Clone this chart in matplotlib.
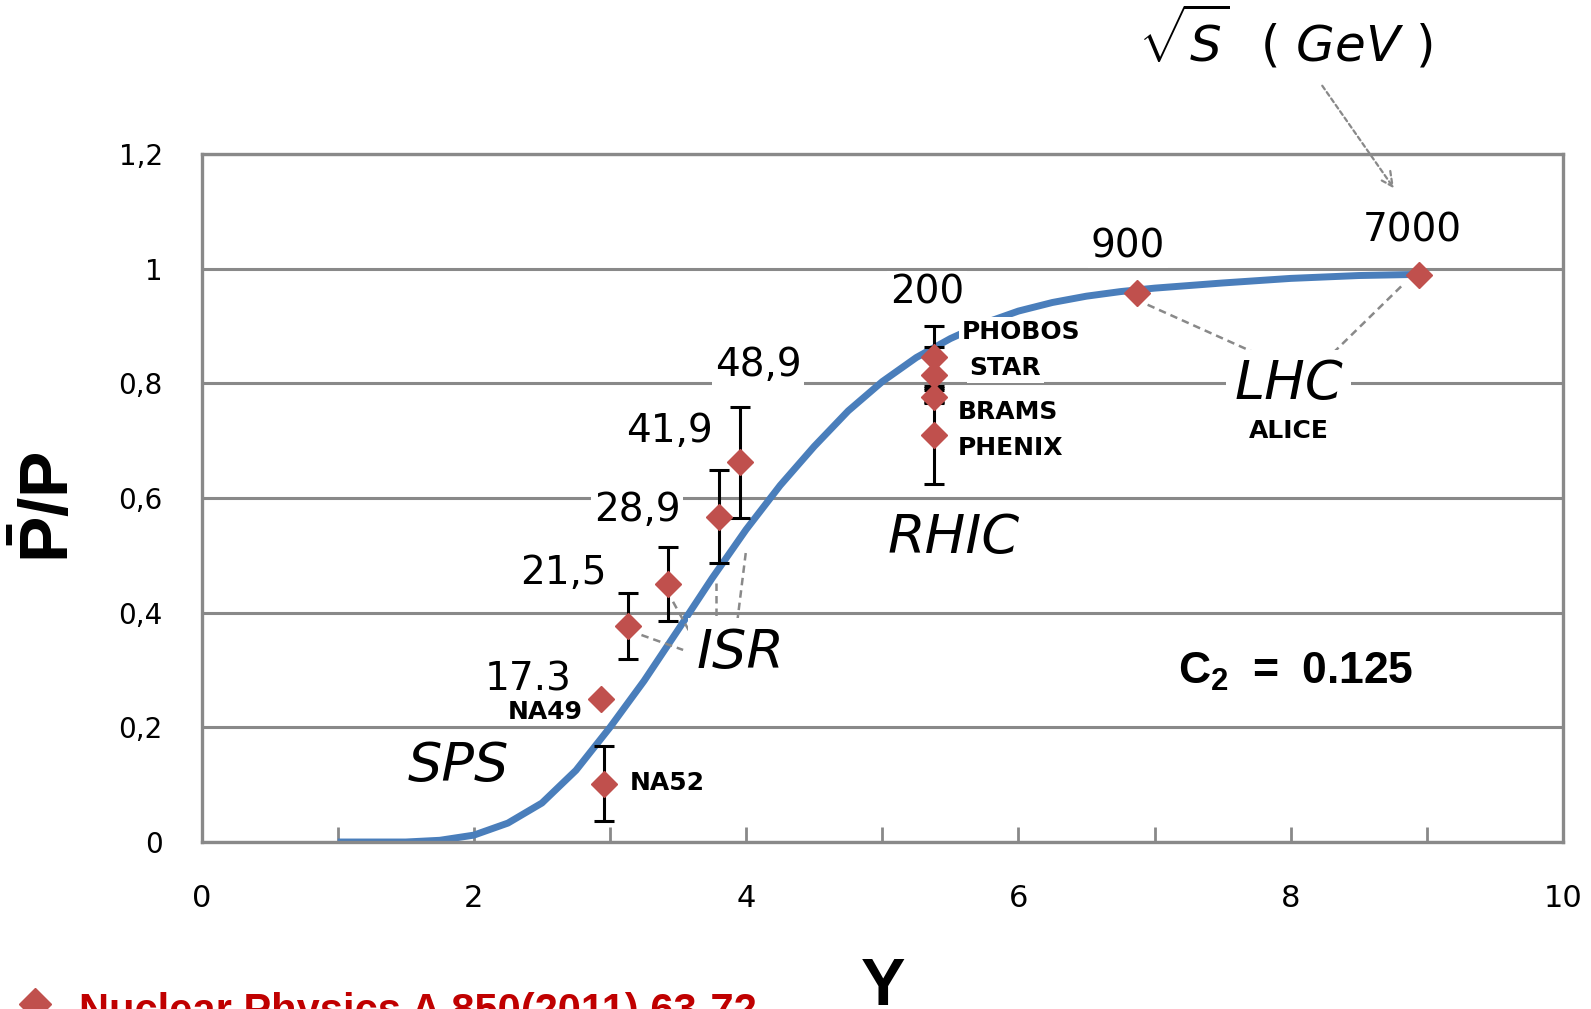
import numpy as np
import matplotlib.pyplot as plt
from matplotlib.lines import Line2D

plt.rcParams['mathtext.fontset'] = 'custom'
plt.rcParams['mathtext.rm'] = 'DejaVu Sans'
plt.rcParams['mathtext.it'] = 'DejaVu Sans:italic'
plt.rcParams['mathtext.bf'] = 'Liberation Sans:bold'

# %% data
# fitted curve (C2 = 0.125)
curve_x = [1.0, 1.25, 1.5, 1.75, 2.0, 2.25, 2.5, 2.75, 3.0, 3.25, 3.5, 3.75,
           4.0, 4.25, 4.5, 4.75, 5.0, 5.25, 5.5, 5.75, 6.0, 6.25, 6.5, 6.75,
           7.0, 7.5, 8.0, 8.5, 8.94]
curve_y = [0.0, 0.0, 0.0, 0.003, 0.012, 0.033, 0.068, 0.125, 0.200, 0.281,
           0.370, 0.460, 0.545, 0.622, 0.690, 0.752, 0.803, 0.845, 0.878, 0.905,
           0.926, 0.941, 0.952, 0.960, 0.966, 0.975, 0.983, 0.988, 0.990]

# measured pbar/p ratios
names = ["NA52", "NA49", "ISR1", "ISR2", "ISR3", "ISR4",
         "PHOBOS", "STAR", "BRAMS", "PHENIX", "ALICE900", "ALICE7000"]
rap = [2.957, 2.937, 3.133, 3.427, 3.801, 3.953, 5.38, 5.38, 5.38, 5.38, 6.87, 8.94]
ratio = [0.102, 0.249, 0.377, 0.450, 0.567, 0.662, 0.8465, 0.8146, 0.777, 0.710,
         0.957, 0.989]
err = [0.066, 0.0, 0.058, 0.064, 0.081, 0.0975, 0.054, 0.048, 0.012, 0.085, 0.0, 0.0]

# sqrt(s) labels (GeV)
energy_txt = ["17.3", "21,5", "28,9", "41,9", "48,9", "200", "900", "7000"]
energy_pos = [(2.399, 0.283), (2.655, 0.469), (3.20, 0.579), (3.433, 0.716),
              (4.087, 0.832), (5.33, 0.958), (6.804, 1.039), (8.89, 1.066)]

# experiment labels
exp_txt = ["PHOBOS", "STAR", "BRAMS", "PHENIX", "NA52"]
exp_pos = [(5.58, 0.890), (5.642, 0.826), (5.556, 0.750), (5.556, 0.687), (3.145, 0.1035)]
centered_txt = ["NA49", "ALICE"]
centered_pos = [(2.527, 0.226), (7.984, 0.717)]

# accelerator labels
acc_txt = ["SPS", "ISR", "RHIC", "LHC"]
acc_pos = [(1.887, 0.132), (3.958, 0.3305), (5.523, 0.531), (7.984, 0.799)]

# leader lines (label -> points)
leaders = [((3.231, 0.361), (3.537, 0.335)), ((3.463, 0.419), (3.598, 0.361)),
           ((3.782, 0.451), (3.782, 0.381)), ((3.997, 0.504), (3.933, 0.381)),
           ((6.949, 0.937), (7.747, 0.852)), ((8.811, 0.969), (8.307, 0.852))]

yticks = [0, 0.2, 0.4, 0.6, 0.8, 1.0, 1.2]
ytick_labels = ["0", "0,2", "0,4", "0,6", "0,8", "1", "1,2"]
xticks = [0, 2, 4, 6, 8, 10]

# %% figure
fig = plt.figure(figsize=(15.91, 10.09), dpi=100)
ax = fig.add_axes([0.1267, 0.1655, 0.8557, 0.6819])

gray = "#898989"
red = "#C0504D"

ax.plot(curve_x, curve_y, "-", color="#4A7EBB", lw=5, zorder=2,
        solid_capstyle="butt", solid_joinstyle="round")

for (x0, y0), (x1, y1) in leaders:
    ax.plot([x0, x1], [y0, y1], ls=(0, (3, 2)), color=gray, lw=1.8, zorder=2.5)

rap = np.array(rap)
ratio = np.array(ratio)
err = np.array(err)
m = err > 0
ax.errorbar(rap[m], ratio[m], yerr=err[m], fmt="none", ecolor="black",
            elinewidth=2.2, capsize=7.5, capthick=2.2, zorder=3)
ax.plot(rap, ratio, "D", color=red, ms=13, mec=red, zorder=4)

box = dict(facecolor="white", edgecolor="none", pad=2)
for t, (x, y) in zip(energy_txt, energy_pos):
    ax.text(x, y, t, fontsize=28, ha="center", va="center", bbox=box, zorder=5)
for t, (x, y) in zip(exp_txt, exp_pos):
    ax.text(x, y, t, fontsize=18, fontweight="bold", ha="left", va="center",
            bbox=box, zorder=5)
for t, (x, y) in zip(centered_txt, centered_pos):
    ax.text(x, y, t, fontsize=18, fontweight="bold", ha="center", va="center",
            zorder=5)
for t, (x, y) in zip(acc_txt, acc_pos):
    ax.text(x, y, t, fontsize=39, style="italic", ha="center", va="center",
            bbox=dict(facecolor="white", edgecolor="none", pad=6), zorder=5)

ax.text(8.034, 0.297, r"$\mathbf{C_2\ =\ 0.125}$", fontsize=32, ha="center",
        va="center", zorder=5)

# sqrt(s) header with arrow
ax.text(7.96, 1.405, r"$\sqrt{S}\ \ (\ GeV\ )$", fontsize=36, ha="center",
        va="center", zorder=5, clip_on=False)
ax.annotate("", xy=(8.77, 1.136), xytext=(8.22, 1.323),
            arrowprops=dict(arrowstyle="->", color=gray, lw=1.6, ls=(0, (2, 1.5)),
                            mutation_scale=25),
            annotation_clip=False)

# axes styling
ax.set_xlim(0, 10)
ax.set_ylim(0, 1.2)
ax.set_yticks(yticks)
ax.set_yticklabels(ytick_labels)
ax.set_xticks(xticks)
ax.set_xticks([1, 3, 5, 7, 9], minor=True)
ax.grid(True, axis="y", color=gray, lw=2.2)
ax.set_axisbelow(True)
for s in ax.spines.values():
    s.set_color(gray)
    s.set_linewidth(2.4)
ax.tick_params(axis="y", length=0, pad=28, labelsize=20)
ax.tick_params(axis="x", which="both", direction="in", length=11, width=2,
               color=gray, pad=30, labelsize=22)

# axis titles
fig.text(0.031, 0.497, r"$\mathbf{\bar{P}/P}$", fontsize=50, rotation=90,
         ha="center", va="center")
fig.text(0.555, 0.052, "Y", fontsize=48, fontweight="bold", family="Liberation Sans",
         ha="center", va="top")

# legend entry, cut by the bottom edge
fig.add_artist(Line2D([0.0217], [0.005], marker="D", color=red, ms=16,
                      transform=fig.transFigure))
fig.text(0.0497, 0.0165, "Nuclear Physics A 850(2011) 63-72", fontsize=30,
         fontweight="bold", family="Liberation Sans", color="#C00000",
         ha="left", va="top")

fig.savefig("out.png", dpi=100)
